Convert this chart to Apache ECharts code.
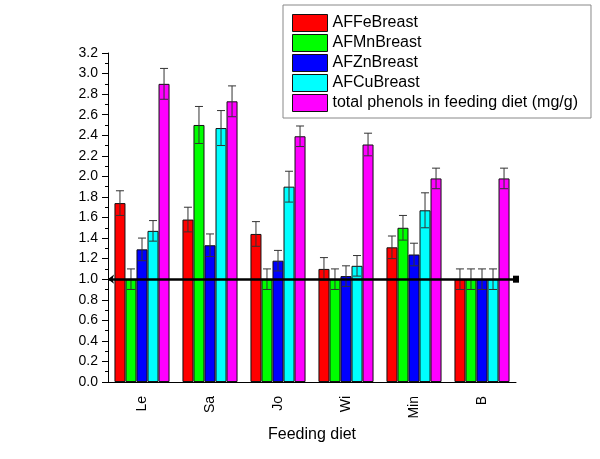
<!DOCTYPE html>
<html>
<head>
<meta charset="utf-8">
<script src="https://cdn.jsdelivr.net/npm/echarts@6/dist/echarts.min.js"></script>
<style>html,body{margin:0;padding:0;background:#fff}#c{width:600px;height:459px}</style>
</head>
<body>
<div id="c"></div>
<script>
const categories = ['Le', 'Sa', 'Jo', 'Wi', 'Min', 'B'];
const seriesNames = ['AFFeBreast', 'AFMnBreast', 'AFZnBreast', 'AFCuBreast', 'total phenols in feeding diet (mg/g)'];
const feValues = [1.74, 1.58, 1.44, 1.10, 1.31, 1.00];
const feErrors = [0.12, 0.12, 0.12, 0.11, 0.11, 0.10];
const mnValues = [1.00, 2.50, 1.00, 1.00, 1.50, 1.00];
const mnErrors = [0.10, 0.18, 0.10, 0.10, 0.12, 0.10];
const znValues = [1.29, 1.33, 1.18, 1.03, 1.24, 1.00];
const znErrors = [0.11, 0.11, 0.10, 0.10, 0.11, 0.10];
const cuValues = [1.47, 2.47, 1.90, 1.13, 1.67, 1.00];
const cuErrors = [0.10, 0.17, 0.15, 0.10, 0.17, 0.10];
const phenolValues = [2.90, 2.73, 2.39, 2.31, 1.98, 1.98];
const phenolErrors = [0.15, 0.15, 0.10, 0.11, 0.10, 0.10];
const yTicks = ['0.0','0.2','0.4','0.6','0.8','1.0','1.2','1.4','1.6','1.8','2.0','2.2','2.4','2.6','2.8','3.0','3.2'];
const referenceLevel = 1.0;

const allValues = [feValues, mnValues, znValues, cuValues, phenolValues];
const allErrors = [feErrors, mnErrors, znErrors, cuErrors, phenolErrors];
const colors = ['#ff0000', '#00ff00', '#0000ff', '#00ffff', '#ff00ff'];
const catGap = 0.19;
const font = 'Liberation Sans, Arial, sans-serif';

const chart = echarts.init(document.getElementById('c'), null, {renderer: 'canvas'});

const series = [];
allValues.forEach((vals, k) => {
  series.push({
    name: seriesNames[k],
    type: 'bar',
    xAxisIndex: 0,
    data: vals,
    barGap: '0%',
    barCategoryGap: (catGap * 100) + '%',
    itemStyle: {color: colors[k], borderColor: '#111', borderWidth: 1},
    emphasis: {disabled: true},
    z: 2
  });
});
allValues.forEach((vals, k) => {
  const s = {
    type: 'custom',
    xAxisIndex: 0,
    z: 5,
    silent: true,
    data: vals.map((v, i) => [i, v, allErrors[k][i]]),
    encode: {x: 0, y: 1},
    renderItem: function (params, api) {
      const cat = api.value(0), v = api.value(1), e = api.value(2);
      const bw = api.size([1, 0])[0];
      const barW = bw * (1 - catGap) / 5;
      const off = (k - 2) * barW;
      const top = api.coord([cat, v + e]);
      const bot = api.coord([cat, v - e]);
      const x = top[0] + off;
      const cap = 4;
      const st = {stroke: '#333', lineWidth: 1};
      return {
        type: 'group',
        children: [
          {type: 'line', shape: {x1: x, y1: top[1], x2: x, y2: bot[1]}, style: st},
          {type: 'line', shape: {x1: x - cap, y1: top[1], x2: x + cap, y2: top[1]}, style: st},
          {type: 'line', shape: {x1: x - cap, y1: bot[1], x2: x + cap, y2: bot[1]}, style: st}
        ]
      };
    }
  };
  if (k === 0) {
    s.markLine = {
      silent: true,
      symbol: ['arrow', 'rect'],
      symbolSize: [7, 6],
      label: {show: false},
      lineStyle: {color: '#000', width: 2.5, type: 'solid'},
      data: [{yAxis: referenceLevel}],
      z: 6
    };
  }
  series.push(s);
});

chart.setOption({
  animation: false,
  textStyle: {fontFamily: font},
  grid: {left: 108, right: 84, top: 53, bottom: 77},
  legend: {
    orient: 'vertical',
    left: 283,
    top: 5,
    data: seriesNames,
    icon: 'rect',
    itemWidth: 35,
    itemHeight: 17,
    itemGap: 2,
    padding: [9, 13, 6, 9],
    borderColor: '#888',
    borderWidth: 1,
    selectedMode: false,
    textStyle: {fontSize: 16, color: '#000', fontFamily: font, padding: [0, 0, 0, 0], lineHeight: 17},
    itemStyle: {borderColor: '#111', borderWidth: 1}
  },
  xAxis: [{
    type: 'category',
    data: categories,
    position: 'bottom',
    name: 'Feeding diet',
    nameLocation: 'middle',
    nameGap: 41,
    nameTextStyle: {fontSize: 16, color: '#000', fontFamily: font},
    axisLine: {lineStyle: {color: '#000', width: 1}},
    axisTick: {alignWithLabel: true, length: 6, lineStyle: {color: '#000'}},
    axisLabel: {rotate: 90, fontSize: 14, color: '#000', margin: 14, fontFamily: font},
    splitLine: {show: false}
  }, {
    type: 'category',
    data: categories,
    position: 'bottom',
    axisLine: {show: false},
    axisTick: {alignWithLabel: false, length: 3, lineStyle: {color: '#000'}},
    axisLabel: {show: false},
    splitLine: {show: false}
  }],
  yAxis: {
    type: 'value',
    min: 0,
    max: 3.2,
    interval: 0.2,
    axisLine: {show: true, lineStyle: {color: '#000', width: 1}},
    axisTick: {show: true, length: 6, lineStyle: {color: '#000'}},
    minorTick: {show: true, splitNumber: 2, length: 3, lineStyle: {color: '#000'}},
    axisLabel: {fontSize: 14, color: '#000', margin: 10, fontFamily: font,
      formatter: function (v) { return yTicks[Math.round(v / 0.2)]; }},
    splitLine: {show: false}
  },
  series: series
});
</script>
</body>
</html>
